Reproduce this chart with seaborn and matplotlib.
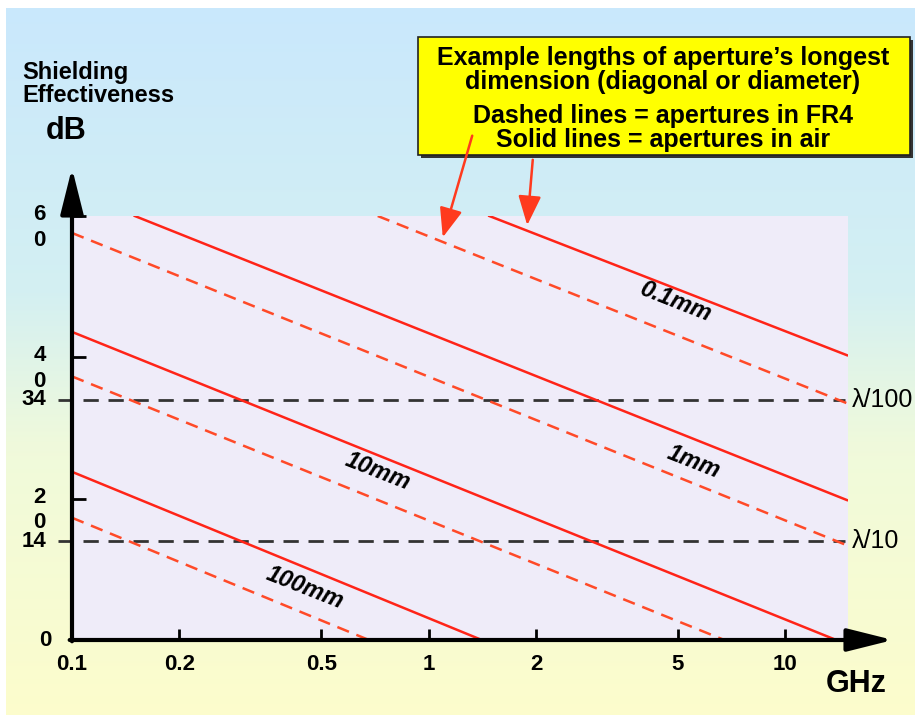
import numpy as np
import pandas as pd
import matplotlib
matplotlib.use('Agg')
import matplotlib.pyplot as plt
from matplotlib.patches import Rectangle, FancyArrowPatch
from matplotlib.ticker import NullLocator
from matplotlib.transforms import blended_transform_factory, ScaledTranslation
import seaborn as sns

plt.rcParams['font.family'] = ['Liberation Sans', 'DejaVu Sans']

# endpoints (GHz, dB)
sizes = ['0.1mm', '1mm', '10mm', '100mm']
air_f_start = [1.48, 0.15, 0.1, 0.1]
air_se_start = [60, 60, 43.6, 23.8]
air_f_end = [14.9, 14.9, 13.9, 1.41]
air_se_end = [40.3, 19.8, 0, 0]
fr4_f_start = [0.72, 0.1, 0.1, 0.1]
fr4_se_start = [60, 57.6, 37.3, 17.3]
fr4_f_end = [14.9, 14.9, 6.75, 0.68]
fr4_se_end = [33.5, 13.4, 0, 0]

x_ticks = [0.1, 0.2, 0.5, 1, 2, 5, 10]
x_tick_labels = ['0.1', '0.2', '0.5', '1', '2', '5', '10']
y_ticks = [0, 14, 20, 34, 40, 60]
y_tick_labels = ['0', '14', '2\n0', '34', '4\n0', '6\n0']
ref_levels = [34, 14]
ref_labels = ['\u03bb/100', '\u03bb/10']

rows = []
for i, s in enumerate(sizes):
    rows.append(('air', s, air_f_start[i], air_se_start[i]))
    rows.append(('air', s, air_f_end[i], air_se_end[i]))
    rows.append(('FR4', s, fr4_f_start[i], fr4_se_start[i]))
    rows.append(('FR4', s, fr4_f_end[i], fr4_se_end[i]))
df = pd.DataFrame(rows, columns=['medium', 'size', 'freq', 'se'])

W, H = 915, 715
def px(x, y):
    return x / W, 1 - y / H

fig = plt.figure(figsize=(W / 100, H / 100), dpi=100, facecolor='white')

# background gradient, blue at the top to pale yellow at the bottom
bg = fig.add_axes([6 / W, 0, 1 - 6 / W, 1 - 8 / H], zorder=-10)
stops = np.array([0.0, 0.40, 0.62, 1.0])
cols = np.array([[0.79, 0.91, 0.99],
                 [0.83, 0.94, 0.95],
                 [0.94, 0.98, 0.86],
                 [0.99, 0.99, 0.80]])
t = np.linspace(0, 1, 300)
grad = np.stack([np.interp(t, stops, cols[:, k]) for k in range(3)], axis=1)
bg.imshow(grad[:, None, :], aspect='auto', extent=[0, 1, 0, 1])
bg.axis('off')

ax = fig.add_axes([72 / W, 1 - 640 / H, 776 / W, 424 / H])
ax.set_facecolor('#EFECF9')

sns.lineplot(data=df, x='freq', y='se', hue='medium', style='medium',
             units='size', estimator=None, sort=False,
             palette={'air': '#FF2418', 'FR4': '#FF4A28'},
             dashes={'air': '', 'FR4': (5, 3.2)},
             linewidth=1.8, legend=False, ax=ax, zorder=3)

ax.set_xscale('log')
ax.set_xlim(0.1, 15)
ax.set_ylim(0, 60)
for sp in ax.spines.values():
    sp.set_visible(False)
ax.set_xlabel('')
ax.set_ylabel('')

ax.xaxis.set_minor_locator(NullLocator())
ax.set_xticks(x_ticks, x_tick_labels)
ax.tick_params(axis='x', direction='in', length=8, width=2, color='black',
               pad=10, labelsize=16)
for lab in ax.get_xticklabels():
    lab.set_fontweight('bold')

ax.set_yticks([0, 20, 40, 60], [''] * 4)
ax.tick_params(axis='y', direction='in', length=10, width=2, color='black')

# y tick labels, first line centred on the tick
ytrans = blended_transform_factory(fig.transFigure, ax.transData)
for v, lab in zip(y_ticks, y_tick_labels):
    xr = 52 if v == 0 else 46
    off = ScaledTranslation(0, 0.12 if '\n' in lab else 0.0, fig.dpi_scale_trans)
    ax.text(xr / W, v, lab, transform=ytrans + off, ha='right',
            va='top' if '\n' in lab else 'center', fontsize=16,
            fontweight='bold', linespacing=1.3, multialignment='center')

# wavelength reference lines
for lvl, lab in zip(ref_levels, ref_labels):
    ax.axhline(lvl, xmin=-14 / 776, xmax=(845 - 72) / 776, clip_on=False,
               color='#333333', lw=2, dashes=(5.5, 3.5), zorder=2)
    ax.text(852 / W, lvl, lab, transform=ytrans, ha='left', va='center',
            fontsize=18)

# axis arrows
arrow_style = '-|>,head_length=1.4,head_width=0.35'
ax.annotate('', xy=(0, (640 - 168) / 424), xytext=(0, -0.003),
            xycoords='axes fraction',
            arrowprops=dict(arrowstyle=arrow_style, lw=3, color='black',
                            mutation_scale=20, shrinkA=0, shrinkB=0),
            annotation_clip=False)
ax.annotate('', xy=((893 - 72) / 776, 0), xytext=(-0.003, 0),
            xycoords='axes fraction',
            arrowprops=dict(arrowstyle=arrow_style, lw=3, color='black',
                            mutation_scale=20, shrinkA=0, shrinkB=0),
            annotation_clip=False)

# size labels on the lines
for s, (xv, yv) in zip(sizes, [(4.92, 47.9), (5.52, 25.2), (0.72, 23.8), (0.45, 7.4)]):
    ax.text(xv, yv, s, rotation=-21.5, rotation_mode='anchor', ha='center',
            va='center', fontsize=17, fontweight='bold', fontstyle='italic')

# axis titles
fig.text(*px(22, 61), 'Shielding\nEffectiveness', ha='left', va='top',
         fontsize=17, fontweight='bold', linespacing=1.0)
fig.text(*px(66, 131), 'dB', ha='center', va='center', fontsize=22,
         fontweight='bold')
fig.text(*px(856, 684), 'GHz', ha='center', va='center', fontsize=22,
         fontweight='bold')

# yellow note box with shadow
bx0, by0, bx1, by1 = 418, 37, 910, 155
fig.patches.append(Rectangle(px(bx0 + 3, by1 + 3), (bx1 - bx0) / W, (by1 - by0) / H,
                             transform=fig.transFigure, facecolor='#333333',
                             edgecolor='none', zorder=5))
fig.patches.append(Rectangle(px(bx0, by1), (bx1 - bx0) / W, (by1 - by0) / H,
                             transform=fig.transFigure, facecolor='#FFFF00',
                             edgecolor='#222222', lw=1.2, zorder=6))
note = ['Example lengths of aperture\u2019s longest',
        'dimension (diagonal or diameter)',
        'Dashed lines = apertures in FR4',
        'Solid lines = apertures in air']
for line, yy in zip(note, [58, 82, 116, 140]):
    fig.text(*px(663, yy), line, ha='center', va='center', fontsize=18,
             fontweight='bold', zorder=7)

# pointer arrows from the box
for (x0, y0), (x1, y1) in [((473, 133), (442, 240)), ((533, 157), (527, 228))]:
    fig.add_artist(FancyArrowPatch(
        px(x0, y0), px(x1, y1), transform=fig.transFigure,
        arrowstyle='-|>,head_length=0.9,head_width=0.35', mutation_scale=20,
        color='#FF3A1E', lw=1.8, zorder=8))

fig.savefig('out.png', dpi=100, facecolor='white')
